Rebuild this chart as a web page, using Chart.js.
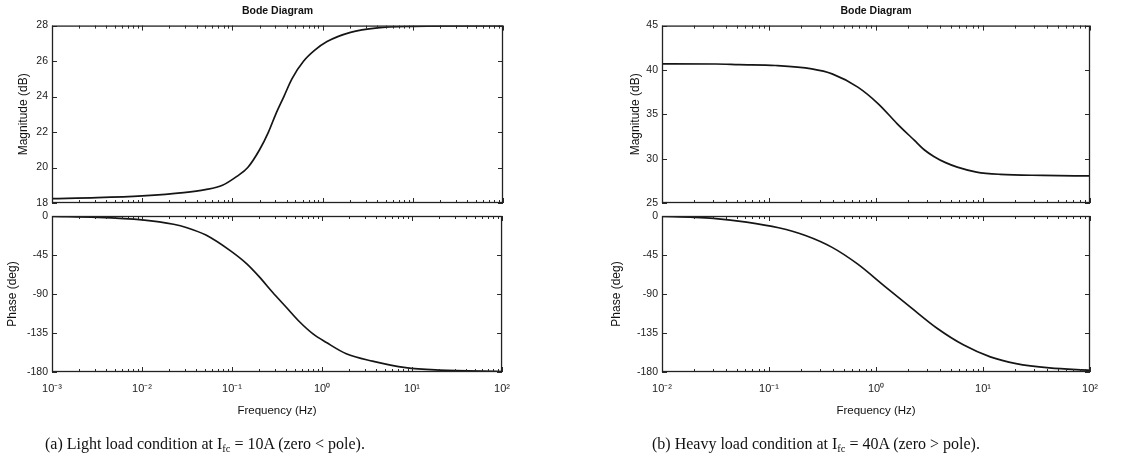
<!DOCTYPE html>
<html><head><meta charset="utf-8">
<script src="https://cdn.jsdelivr.net/npm/chart.js@4/dist/chart.umd.min.js"></script>
<style>
html,body{margin:0;padding:0;background:#fff;}
#page{position:relative;width:1130px;height:473px;overflow:hidden;background:#fff;}
canvas{position:absolute;}
.cap{position:absolute;font-family:'Liberation Serif','Times New Roman',serif;font-size:16px;color:#111;white-space:nowrap;}
.cap sub{font-size:10.5px;vertical-align:-3px;line-height:0;}
</style></head><body>
<div id="page">
<canvas id="magA" width="520" height="215" style="left:0;top:0"></canvas>
<canvas id="phA" width="520" height="226" style="left:0;top:200px"></canvas>
<canvas id="magB" width="540" height="215" style="left:580px;top:0"></canvas>
<canvas id="phB" width="540" height="226" style="left:580px;top:200px"></canvas>
<div class="cap" style="left:45px;top:435px">(a) Light load condition at I<sub>fc</sub> = 10A (zero &lt; pole).</div>
<div class="cap" style="left:652px;top:435px">(b) Heavy load condition at I<sub>fc</sub> = 40A (zero &gt; pole).</div>
</div>
<script>
// ---- tick values ----
const magTicksA = [18, 20, 22, 24, 26, 28];
const magTicksB = [25, 30, 35, 40, 45];
const phaseTicks = [-180, -135, -90, -45, 0];
const decadesA = [-3, -2, -1, 0, 1, 2];
const decadesB = [-2, -1, 0, 1, 2];

// ---- (a) light load ----
const freqMagA = [0.001, 0.00316, 0.01, 0.0288, 0.0501, 0.0776, 0.112, 0.148, 0.2, 0.251, 0.302, 0.372, 0.457, 0.617, 0.813, 1.12, 2.04, 4.07, 10, 31.6, 100];
const magA     = [18.25, 18.3, 18.4, 18.58, 18.75, 19.0, 19.5, 20.0, 21.0, 22.0, 23.0, 24.0, 25.0, 26.0, 26.6, 27.1, 27.62, 27.87, 27.96, 27.99, 28.0];
const freqPhA  = [0.001, 0.00316, 0.01, 0.0224, 0.0316, 0.0513, 0.0955, 0.145, 0.2, 0.282, 0.398, 0.562, 0.794, 1.12, 1.86, 3.63, 8.51, 20, 100];
const phA      = [-0.5, -1.5, -4.5, -9.5, -13.5, -22, -40, -55, -70, -88, -105, -122, -136, -146, -159, -167.5, -175, -177.8, -179.5];

// ---- (b) heavy load ----
const freqMagB = [0.01, 0.0316, 0.0525, 0.115, 0.251, 0.389, 0.676, 1.05, 1.58, 2.29, 2.82, 3.47, 4.47, 5.75, 8.71, 14.5, 36.3, 100];
const magB     = [40.68, 40.67, 40.6, 40.5, 40.12, 39.56, 38.06, 36.18, 33.93, 32.05, 31.0, 30.25, 29.55, 29.05, 28.49, 28.23, 28.11, 28.05];
const freqPhB  = [0.01, 0.02, 0.0302, 0.0617, 0.123, 0.219, 0.389, 0.676, 1.2, 2.14, 3.72, 6.61, 11.7, 20.4, 41.7, 100];
const phB      = [-0.5, -1.5, -2.7, -7.0, -13.6, -22.5, -36.2, -55.6, -80.9, -106, -129.5, -148.9, -162.5, -170.3, -175.3, -178];

Chart.defaults.font.family = "'Liberation Sans', Arial, Helvetica, sans-serif";

const SUP = {'-':'\u207B','0':'\u2070','1':'\u00B9','2':'\u00B2','3':'\u00B3','4':'\u2074','5':'\u2075','6':'\u2076','7':'\u2077','8':'\u2078','9':'\u2079'};
function isDecade(v){ const e = Math.log10(v); return Math.abs(e - Math.round(e)) < 1e-6; }
function decadeLabel(v){
  if (!isDecade(v)) return '';
  const e = String(Math.round(Math.log10(v)));
  return '10' + e.split('').map(c => SUP[c]).join('');
}
function logTicks(decs){
  const t = [];
  for (let i = 0; i < decs.length - 1; i++) {
    for (let m = 1; m <= 9; m++) t.push({value: m * Math.pow(10, decs[i])});
  }
  t.push({value: Math.pow(10, decs[decs.length - 1])});
  return t;
}

const frameTicks = {
  id: 'frameTicks',
  afterDatasetsDraw(chart) {
    const {ctx, chartArea: a} = chart;
    const x = chart.scales.x, y = chart.scales.y;
    ctx.save();
    ctx.strokeStyle = '#2a2a2a';
    ctx.lineWidth = 1;
    ctx.beginPath();
    x.ticks.forEach(t => {
      const px = Math.round(x.getPixelForValue(t.value)) + 0.5;
      const len = isDecade(t.value) ? 5 : 3;
      ctx.moveTo(px, a.top); ctx.lineTo(px, a.top + len);
      ctx.moveTo(px, a.bottom); ctx.lineTo(px, a.bottom - len);
    });
    y.ticks.forEach(t => {
      const py = Math.round(y.getPixelForValue(t.value)) + 0.5;
      ctx.moveTo(a.left, py); ctx.lineTo(a.left + 5, py);
      ctx.moveTo(a.right, py); ctx.lineTo(a.right - 5, py);
    });
    ctx.stroke();
    ctx.lineWidth = 1.3;
    ctx.strokeStyle = '#222';
    ctx.strokeRect(a.left + 0.5, a.top + 0.5, a.right - a.left - 1, a.bottom - a.top - 1);
    ctx.restore();
  }
};

function bodeChart(id, o) {
  return new Chart(document.getElementById(id), {
    type: 'line',
    data: { datasets: [{
      data: o.freq.map((f, i) => ({x: f, y: o.vals[i]})),
      borderColor: '#151515', borderWidth: 1.7, pointRadius: 0,
      cubicInterpolationMode: 'monotone', fill: false
    }]},
    options: {
      responsive: false, animation: false, events: [],
      layout: { padding: o.pad },
      plugins: {
        legend: { display: false }, tooltip: { enabled: false },
        title: o.title ? { display: true, text: o.title, fullSize: false, color: '#111',
                           font: { size: 10.5, weight: 'bold' }, padding: { top: 5, bottom: 8 } }
                       : { display: false }
      },
      scales: {
        x: {
          type: 'logarithmic',
          min: Math.pow(10, o.decades[0]), max: Math.pow(10, o.decades[o.decades.length - 1]),
          afterBuildTicks: s => { s.ticks = logTicks(o.decades); },
          afterFit: s => { s.height = o.xHeight; },
          grid: { display: false, drawTicks: false }, border: { display: false },
          ticks: { display: o.xLabels, autoSkip: false, maxRotation: 0, minRotation: 0, padding: 10,
                   color: '#222', font: { size: 11 }, callback: v => decadeLabel(v) },
          title: { display: o.xLabels, text: 'Frequency (Hz)', color: '#111',
                   font: { size: 11.5 }, padding: { top: 0, bottom: 8.7 } }
        },
        y: {
          type: 'linear', min: o.yTicks[0], max: o.yTicks[o.yTicks.length - 1],
          afterBuildTicks: s => { s.ticks = o.yTicks.map(v => ({value: v})); },
          afterFit: s => { s.width = o.yWidth; },
          grid: { display: false, drawTicks: false }, border: { display: false },
          ticks: { padding: 4, color: '#222', font: { size: 10.5 }, autoSkip: false },
          title: { display: true, text: o.yTitle, color: '#111', font: { size: 12 },
                   padding: { top: o.yTitlePad, bottom: 0 } }
        }
      }
    },
    plugins: [frameTicks]
  });
}

bodeChart('magA', { freq: freqMagA, vals: magA, yTicks: magTicksA, decades: decadesA,
  title: 'Bode Diagram', yTitle: 'Magnitude (dB)', yTitlePad: 16.7, yWidth: 52, xHeight: 0,
  xLabels: false, pad: { left: 0, right: 17, top: 0, bottom: 12 } });
bodeChart('phA', { freq: freqPhA, vals: phA, yTicks: phaseTicks, decades: decadesA,
  title: null, yTitle: 'Phase (deg)', yTitlePad: 5.7, yWidth: 52, xHeight: 54,
  xLabels: true, pad: { left: 0, right: 17, top: 16, bottom: 0 } });
bodeChart('magB', { freq: freqMagB, vals: magB, yTicks: magTicksB, decades: decadesB,
  title: 'Bode Diagram', yTitle: 'Magnitude (dB)', yTitlePad: 48.7, yWidth: 82, xHeight: 0,
  xLabels: false, pad: { left: 0, right: 30, top: 0, bottom: 12 } });
bodeChart('phB', { freq: freqPhB, vals: phB, yTicks: phaseTicks, decades: decadesB,
  title: null, yTitle: 'Phase (deg)', yTitlePad: 29.7, yWidth: 82, xHeight: 54,
  xLabels: true, pad: { left: 0, right: 30, top: 16, bottom: 0 } });
</script>
</body></html>
